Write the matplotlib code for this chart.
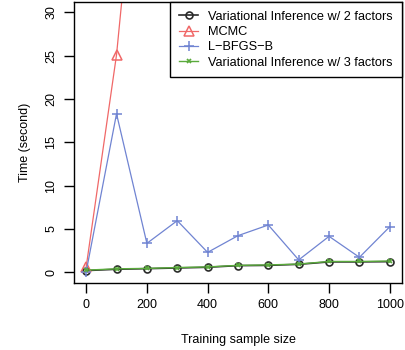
import numpy as np
import matplotlib.pyplot as plt

# training sample sizes
x = [0, 100, 200, 300, 400, 500, 600, 700, 800, 900, 1000]
vi2 = [0.2, 0.35, 0.42, 0.5, 0.58, 0.77, 0.8, 0.92, 1.2, 1.2, 1.23]
vi3 = [0.25, 0.4, 0.45, 0.55, 0.62, 0.8, 0.85, 0.95, 1.25, 1.25, 1.3]
lbfgs = [0.05, 18.3, 3.34, 5.96, 2.3, 4.23, 5.46, 1.43, 4.15, 1.73, 5.26]
mcmc_x = [0, 100, 200]
mcmc = [0.6, 25.1, 61.0]

plt.rcParams['font.family'] = ['Liberation Sans', 'DejaVu Sans']

fig = plt.figure(figsize=(4.06, 3.5), dpi=100)
ax = fig.add_axes([0.1823, 0.1923, 0.8077, 0.802])

ax.plot(x, vi2, color='#2a2a2a', lw=1.2, marker='o', ms=5, mfc='none',
        mew=1.2, label='Variational Inference w/ 2 factors')
ax.plot(mcmc_x, mcmc, color='#f06868', lw=0.9, marker='^', ms=6.5, mfc='none',
        mew=1.1, label='MCMC')
ax.plot(x, lbfgs, color='#7084d2', lw=0.9, marker='+', ms=7, mew=1.1,
        label='L\u2212BFGS\u2212B')
ax.plot(x, vi3, color='#5aaa3c', lw=1, marker='x', ms=3.5, mew=1.2,
        label='Variational Inference w/ 3 factors')

ax.set_xlim(-40, 1040)
ax.set_ylim(-1.2, 31.2)
ax.set_xticks([0, 200, 400, 600, 800, 1000])
ax.set_yticks([0, 5, 10, 15, 20, 25, 30])
ax.tick_params(direction='out', length=7, width=1, labelsize=9, pad=5)
for lab in ax.get_yticklabels():
    lab.set_rotation(90)
    lab.set_va('center')
for s in ax.spines.values():
    s.set_linewidth(1)

ax.set_xlabel('Training sample size', fontsize=9, labelpad=16)
ax.set_ylabel('Time (second)', fontsize=9, labelpad=10)

leg = ax.legend(loc='upper right', borderaxespad=0, fancybox=False,
                edgecolor='black', framealpha=1, fontsize=9.2,
                handlelength=1.5, labelspacing=0.25, borderpad=0.7,
                handletextpad=0.8)
leg.get_frame().set_linewidth(1)

fig.savefig('out.png', dpi=100)
